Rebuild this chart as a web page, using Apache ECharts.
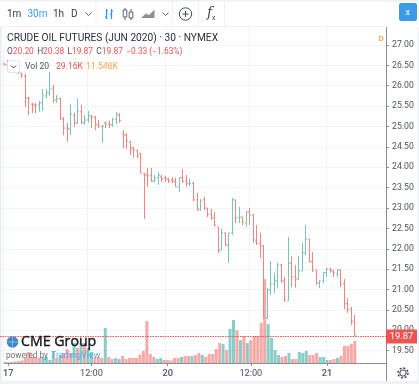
<!DOCTYPE html>
<html>
<head>
<meta charset="utf-8">
<style>
    html, body { margin: 0; padding: 0; background: #fff; }
    #chart { width: 419px; height: 384px; }
</style>
<script src="https://cdn.jsdelivr.net/npm/echarts@6/dist/echarts.min.js"></script>
</head>
<body>
<div id="chart"></div>
<script>
const opens = [26.51, 26.53, 26.51, 26.48, 26.44, 26.39, 26.31, 26.24, 25.70, 25.55, 25.53, 25.53, 25.58, 25.75, 25.82, 25.92, 25.65, 25.68, 25.18, 24.96, 24.94, 25.28, 25.09, 25.36, 25.09, 25.16, 25.26, 25.23, 25.06, 24.99, 25.09, 25.06, 25.04, 25.18, 25.28, 24.82, 24.79, 24.62, 24.47, 24.42, 24.33, 23.84, 23.81, 23.79, 23.66, 23.74, 23.76, 23.74, 23.71, 23.69, 23.66, 23.52, 23.74, 23.66, 23.59, 23.61, 23.20, 22.95, 23.20, 23.00, 22.85, 22.76, 22.54, 21.97, 22.39, 22.09, 22.39, 23.20, 22.76, 22.78, 22.63, 22.90, 22.83, 22.19, 22.12, 22.07, 20.30, 20.99, 21.14, 21.21, 21.60, 21.21, 20.72, 21.65, 21.31, 21.26, 21.46, 21.90, 22.24, 21.68, 21.48, 21.16, 21.21, 21.42, 21.50, 21.46, 21.38, 21.48, 21.14, 20.65, 20.52, 20.20];
const highs = [26.56, 26.56, 26.63, 26.60, 26.55, 26.48, 26.31, 26.29, 25.72, 25.58, 25.58, 25.63, 25.92, 25.92, 26.34, 26.02, 25.77, 25.70, 25.23, 25.09, 25.55, 25.33, 25.68, 25.53, 25.28, 25.38, 25.28, 25.26, 25.16, 25.04, 25.11, 25.14, 25.21, 25.36, 25.33, 24.91, 24.84, 24.65, 24.50, 24.42, 24.35, 23.86, 23.98, 23.98, 23.81, 23.88, 23.81, 23.79, 23.74, 23.76, 23.74, 23.76, 23.95, 23.81, 23.71, 23.64, 23.37, 23.22, 23.27, 23.00, 22.98, 22.90, 22.54, 22.49, 22.39, 22.39, 23.25, 23.20, 23.03, 22.78, 22.93, 23.00, 22.85, 22.58, 22.39, 22.09, 21.04, 21.70, 21.41, 21.65, 21.63, 21.31, 22.29, 21.82, 21.60, 21.82, 22.14, 22.58, 22.24, 21.92, 21.48, 21.24, 21.43, 21.53, 21.53, 21.48, 21.50, 21.50, 21.26, 20.79, 20.57, 20.38];
const lows = [26.48, 26.51, 26.44, 26.39, 26.34, 26.29, 26.19, 25.48, 25.28, 25.33, 25.33, 25.36, 25.38, 25.70, 25.75, 25.58, 25.58, 25.16, 24.79, 24.62, 24.79, 24.99, 25.06, 25.06, 25.04, 25.09, 24.96, 24.91, 24.96, 24.60, 24.96, 24.96, 24.99, 25.06, 25.09, 24.47, 24.45, 24.30, 24.23, 24.23, 23.86, 22.73, 23.52, 23.64, 23.64, 23.57, 23.64, 23.64, 23.61, 23.61, 23.52, 23.39, 23.61, 23.52, 23.54, 23.17, 22.93, 22.93, 22.95, 22.78, 22.71, 22.54, 21.90, 21.97, 22.07, 21.65, 22.34, 22.63, 22.63, 22.58, 22.54, 22.58, 22.14, 22.09, 21.77, 20.30, 20.28, 20.87, 20.92, 21.04, 21.16, 20.70, 20.72, 21.06, 21.04, 21.24, 21.46, 21.85, 21.68, 21.43, 21.11, 21.04, 21.16, 21.31, 21.41, 21.31, 21.31, 21.06, 20.52, 20.43, 20.13, 19.87];
const closes = [26.53, 26.51, 26.48, 26.44, 26.39, 26.34, 26.26, 25.70, 25.68, 25.53, 25.52, 25.58, 25.75, 25.82, 25.92, 25.65, 25.68, 25.21, 24.96, 24.94, 25.31, 25.09, 25.38, 25.11, 25.16, 25.26, 25.23, 25.04, 25.01, 25.01, 25.06, 25.04, 25.18, 25.28, 25.14, 24.79, 24.65, 24.47, 24.42, 24.28, 23.86, 23.81, 23.79, 23.66, 23.74, 23.81, 23.71, 23.71, 23.66, 23.66, 23.52, 23.74, 23.66, 23.61, 23.61, 23.20, 22.98, 23.17, 23.00, 22.85, 22.76, 22.58, 21.95, 22.39, 22.09, 22.38, 23.20, 22.76, 22.78, 22.66, 22.90, 22.83, 22.22, 22.14, 22.07, 20.30, 20.99, 21.14, 21.21, 21.60, 21.21, 20.75, 21.65, 21.31, 21.26, 21.46, 21.90, 22.24, 21.68, 21.48, 21.16, 21.21, 21.42, 21.50, 21.46, 21.41, 21.48, 21.14, 20.65, 20.52, 20.23, 19.87];
// volume in thousands
const volumes = [1.3, 1.3, 1.3, 2, 2.6, 3.3, 6.6, 14.4, 7.9, 7.9, 6.6, 7.9, 7.9, 3.9, 14.4, 6.6, 10.5, 13.1, 18.3, 13.1, 26.2, 19.7, 26.2, 26.2, 19.7, 14.4, 7.9, 7.9, 6.6, 45.9, 7.9, 5.2, 6.6, 5.2, 9.2, 5.2, 6.6, 6.6, 6.6, 11, 15.7, 55, 11.8, 7.9, 5.2, 6.6, 3.9, 3.9, 3.3, 6.6, 6.6, 7.9, 9.2, 9.2, 9.2, 10.5, 13.1, 10.5, 7.9, 11.8, 11.8, 18.3, 26.2, 24.9, 17, 44.6, 56.4, 43, 30, 35.4, 26.2, 30, 35.4, 35.4, 52.4, 110, 51, 32.8, 17, 10.5, 7.9, 9.2, 13.1, 5.2, 5.2, 14.4, 13.1, 15.7, 10.5, 10.5, 13.1, 7.9, 7.9, 3.9, 3.9, 5.2, 6.6, 9.2, 22.3, 22.3, 24.9, 29.16];
const priceTicks = [19.5, 20, 20.5, 21, 21.5, 22, 22.5, 23, 23.5, 24, 24.5, 25, 25.5, 26, 26.5, 27];
const timeTicks = {1: '17', 25: '12:00', 47: '20', 71: '12:00', 93: '21'};
const lastPrice = 19.87;
const slotCount = 111;

const RED = '#ef5350';
const TEXT = '#4c525e';
const GRID = '#f0f3f8';
const AXIS = '#8a8d96';
const FONT = 'Roboto, sans-serif';

const categories = [];
for (let i = 0; i < slotCount; i++) {
    categories.push(timeTicks[i] || '');
}
const hasTime = (i, v) => v !== '';
const ohlcData = opens.map((o, i) => [i, o, highs[i], lows[i], closes[i]]);

function renderOhlc(params, api) {
    const i = api.value(0);
    const x = Math.round(api.coord([i, 0])[0]) + 0.5;
    const oy = api.coord([i, api.value(1)])[1];
    const hy = api.coord([i, api.value(2)])[1];
    const ly = api.coord([i, api.value(3)])[1];
    const cy = api.coord([i, api.value(4)])[1];
    const style = {
        stroke: api.value(4) >= api.value(1) ? '#78c4ba' : '#f38480',
        lineWidth: 1
    };
    return {
        type: 'group',
        children: [
            {type: 'line', shape: {x1: x, y1: hy, x2: x, y2: ly}, style: style},
            {type: 'line', shape: {x1: x - 1.5, y1: oy, x2: x, y2: oy}, style: style},
            {type: 'line', shape: {x1: x, y1: cy, x2: x + 1.5, y2: cy}, style: style}
        ]
    };
}

// horizontal dotted line at the last price, with its red tag on the scale
function renderLastPrice(params, api) {
    const y = Math.round(api.coord([0, api.value(0)])[1]) + 0.5;
    const x2 = params.coordSys.x + params.coordSys.width;
    return {
        type: 'group',
        children: [
            {
                type: 'line',
                shape: {x1: params.coordSys.x, y1: y, x2: x2, y2: y},
                style: {stroke: RED, lineWidth: 1, lineDash: [1.5, 1]}
            },
            {
                type: 'rect',
                shape: {x: x2, y: y - 7, width: 31, height: 14},
                style: {fill: RED}
            },
            {
                type: 'text',
                x: x2 + 15.5,
                y: y,
                style: {
                    text: api.value(0).toFixed(2),
                    fill: '#ffffff',
                    font: '9.4px ' + FONT,
                    align: 'center',
                    verticalAlign: 'middle'
                }
            }
        ]
    };
}

function txt(x, y, text, size, color, extra) {
    return {
        type: 'text',
        z: 100,
        x: x,
        y: y,
        style: Object.assign({
            text: text,
            font: size + 'px ' + FONT,
            fill: color,
            verticalAlign: 'middle'
        }, extra || {})
    };
}

function rect(x, y, w, h, fill, z) {
    return {type: 'rect', z: z || 90, shape: {x: x, y: y, width: w, height: h}, style: {fill: fill}};
}

function poly(points, color, width) {
    return {
        type: 'polyline',
        z: 100,
        shape: {points: points},
        style: {stroke: color, lineWidth: width || 1, fill: null}
    };
}

const ICON = '#5d606b';
const BLUE = '#2196f3';
const chrome = [
    // toolbar
    rect(0, 0, 419, 27, '#ffffff'),
    rect(0, 0, 419, 1.5, '#eef0f4'),
    rect(0, 26, 386, 1, '#eef0f4'),
    rect(95.5, 1, 1, 25, '#eef0f4'),
    rect(172, 1, 1, 25, '#eef0f4'),
    rect(198, 1, 1, 25, '#eef0f4'),
    rect(224, 1, 1, 25, '#eef0f4'),
    txt(7, 14, '1m', 10, '#333a45'),
    txt(27.5, 14, '30m', 10, '#3b9ee8'),
    txt(53, 14, '1h', 10, '#333a45'),
    txt(71, 14, 'D', 10, '#333a45'),
    poly([[85.5, 12.5], [88.5, 15.5], [91.5, 12.5]], ICON),
    // bars / candles / area icons
    poly([[105, 17], [106.5, 17], [106.5, 9], [106.5, 19]], BLUE, 1.2),
    poly([[106.5, 11], [108, 11]], BLUE, 1.2),
    poly([[110, 14], [111.5, 14], [111.5, 9], [111.5, 19]], BLUE, 1.2),
    poly([[111.5, 11], [113, 11]], BLUE, 1.2),
    poly([[125, 8], [125, 20]], ICON),
    {type: 'rect', z: 100, shape: {x: 123.2, y: 10, width: 3.6, height: 7}, style: {stroke: ICON, fill: '#fff'}},
    poly([[131, 9], [131, 20]], ICON),
    {type: 'rect', z: 100, shape: {x: 129.2, y: 12, width: 3.6, height: 6}, style: {stroke: ICON, fill: '#fff'}},
    {type: 'polygon', z: 100, shape: {points: [[141, 18], [146, 13.5], [149, 15], [154.5, 9.5], [154.5, 18]]}, style: {fill: '#8e9099'}},
    poly([[162.5, 12.5], [165.5, 15.5], [168.5, 12.5]], ICON),
    {type: 'circle', z: 100, shape: {cx: 185.5, cy: 14, r: 6.2}, style: {stroke: '#444a55', lineWidth: 1, fill: '#fff'}},
    poly([[182.5, 14], [188.5, 14]], '#444a55'),
    poly([[185.5, 11], [185.5, 17]], '#444a55'),
    txt(207, 13, 'f', 14, '#444a55', {font: 'italic 14px "DejaVu Serif", serif'}),
    txt(212, 18, 'x', 7, '#444a55'),
    {type: 'rect', z: 100, shape: {x: 399, y: 3, width: 18, height: 18, r: 2}, style: {fill: '#3a9be8'}},
    txt(405.5, 12.5, 'x', 9, '#ffffff'),
    // legend
    rect(2, 31, 220, 15, '#ffffff', 80),
    txt(7, 38.5, 'CRUDE OIL FUTURES (JUN 2020) \u00b7 30 \u00b7 NYMEX', 10.2, '#2a2e39'),
    txt(378.5, 39, 'D', 8, '#f5a94a', {font: 'bold 8px ' + FONT}),
    {
        type: 'text',
        z: 100,
        x: 7,
        y: 51.5,
        style: {
            text: '{l|O}{v|20.20} {l|H}{v|20.38} {l|L}{v|19.87} {l|C}{v|19.87} {v|\u22120.33 (\u22121.63%)}',
            verticalAlign: 'middle',
            rich: {
                l: {font: '8.4px ' + FONT, fill: TEXT},
                v: {font: '8.4px ' + FONT, fill: RED}
            }
        }
    },
    {type: 'rect', z: 100, shape: {x: 7.5, y: 60.5, width: 12, height: 12, r: 2}, style: {fill: '#fff', stroke: '#e0e3eb'}},
    poly([[11, 65.5], [13.5, 68], [16, 65.5]], '#333a45'),
    txt(25, 67, 'Vol 20', 8.6, TEXT),
    txt(56, 67, '29.16K', 8.6, RED),
    txt(86, 67, '11.548K', 8.6, '#f5a94a'),
    // watermark
    {type: 'circle', z: 100, shape: {cx: 12.5, cy: 342, r: 5.8}, style: {fill: '#3b87c8'}},
    poly([[7, 342], [18, 342]], '#a9cbe8', 0.7),
    poly([[12.5, 336.5], [12.5, 347.5]], '#a9cbe8', 0.7),
    txt(21, 342, 'CME Group', 14.2, '#15171c', {font: '14.2px "Open Sans", sans-serif', stroke: '#15171c', lineWidth: 0.4}),
    txt(6, 356, 'powered by', 8.2, '#6f6f6f'),
    txt(51, 356, 'TradingView', 9, 'rgba(70,160,235,0.85)'),
    // page edges and axis corner
    rect(0, 27, 1.5, 354, '#e8ecf4', 70),
    rect(0, 381, 419, 3, '#f0f2f6'),
    rect(417.5, 27, 1.5, 354, '#f0f2f6'),
    rect(386, 27, 1, 354, AXIS, 95),
    {type: 'circle', z: 100, shape: {cx: 403, cy: 373, r: 3.2}, style: {stroke: '#333a45', lineWidth: 1, fill: '#fff'}},
    {type: 'circle', z: 100, shape: {cx: 403, cy: 373, r: 5}, style: {stroke: '#333a45', lineWidth: 1.4, lineDash: [2, 1.9], fill: null}}
];

const chart = echarts.init(document.getElementById('chart'));
const option = {
    animation: false,
    backgroundColor: '#ffffff',
    textStyle: {fontFamily: FONT},
    grid: [
        {left: 0, right: 33, top: 27, bottom: 21},
        {left: 0, right: 33, top: 270, bottom: 21}
    ],
    xAxis: [
        {
            type: 'category',
            gridIndex: 0,
            data: categories,
            boundaryGap: false,
            axisLine: {show: false},
            axisTick: {show: false},
            axisLabel: {show: false},
            splitLine: {show: true, interval: hasTime, lineStyle: {color: GRID, width: 1}}
        },
        {
            type: 'category',
            gridIndex: 1,
            data: categories,
            boundaryGap: false,
            axisLine: {lineStyle: {color: AXIS, width: 1}},
            axisTick: {interval: hasTime, length: 3, lineStyle: {color: AXIS}},
            axisLabel: {
                interval: 0,
                color: TEXT,
                fontSize: 9.2,
                margin: 6,
                formatter: v => v.length === 2 ? '{b|' + v + '}' : v,
                rich: {b: {fontSize: 9.2, fontWeight: 500, color: TEXT}}
            },
            splitLine: {show: false}
        }
    ],
    yAxis: [
        {
            type: 'value',
            gridIndex: 0,
            position: 'right',
            min: 19.198,
            max: 27.44,
            axisLine: {show: false},
            axisTick: {show: true, length: 3, customValues: priceTicks, lineStyle: {color: AXIS}},
            axisLabel: {
                color: TEXT,
                fontSize: 8.7,
                margin: 6,
                customValues: priceTicks,
                formatter: v => v.toFixed(2)
            },
            splitLine: {show: true, lineStyle: {color: GRID, width: 1}}
        },
        {
            type: 'value',
            gridIndex: 1,
            min: 0,
            max: 122,
            show: false
        }
    ],
    series: [
        {
            name: 'Vol',
            type: 'bar',
            xAxisIndex: 1,
            yAxisIndex: 1,
            barWidth: 3,
            z: 1,
            data: volumes,
            itemStyle: {
                color: p => closes[p.dataIndex] >= opens[p.dataIndex] ? 'rgba(38,166,154,0.55)' : 'rgba(239,83,80,0.5)'
            }
        },
        {
            name: 'CL',
            type: 'custom',
            xAxisIndex: 0,
            yAxisIndex: 0,
            z: 3,
            clip: true,
            renderItem: renderOhlc,
            encode: {x: 0, y: [1, 2, 3, 4]},
            data: ohlcData
        },
        {
            name: 'Last',
            type: 'custom',
            xAxisIndex: 0,
            yAxisIndex: 0,
            z: 96,
            clip: false,
            renderItem: renderLastPrice,
            encode: {y: 0},
            data: [[lastPrice]]
        }
    ],
    graphic: chrome
};
chart.setOption(option);
</script>
</body>
</html>
